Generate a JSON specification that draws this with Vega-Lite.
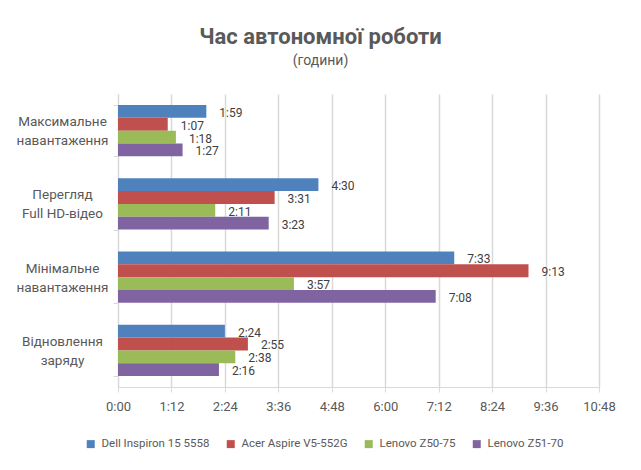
{
  "$schema": "https://vega.github.io/schema/vega-lite/v6.json",
  "width": 481,
  "height": 293,
  "autosize": {"type": "none"},
  "padding": {"left": 118, "top": 94, "right": 42, "bottom": 83},
  "background": "white",
  "config": {"view": {"stroke": null}, "font": "Roboto"},
  "title": {
    "text": "Час автономної роботи",
    "subtitle": "(години)",
    "anchor": "middle",
    "frame": "group",
    "dx": -38,
    "offset": 18,
    "font": "Roboto",
    "fontSize": 22,
    "fontWeight": "bold",
    "color": "#595959",
    "subtitleFont": "Roboto",
    "subtitleFontSize": 14,
    "subtitleColor": "#595959",
    "subtitlePadding": 5
  },
  "data": {
    "values": [
      {"test": "Максимальне навантаження", "model": "Dell Inspiron 15 5558", "minutes": 119, "time": "1:59"},
      {"test": "Максимальне навантаження", "model": "Acer Aspire V5-552G", "minutes": 67, "time": "1:07"},
      {"test": "Максимальне навантаження", "model": "Lenovo Z50-75", "minutes": 78, "time": "1:18"},
      {"test": "Максимальне навантаження", "model": "Lenovo Z51-70", "minutes": 87, "time": "1:27"},
      {"test": "Перегляд Full HD-відео", "model": "Dell Inspiron 15 5558", "minutes": 270, "time": "4:30"},
      {"test": "Перегляд Full HD-відео", "model": "Acer Aspire V5-552G", "minutes": 211, "time": "3:31"},
      {"test": "Перегляд Full HD-відео", "model": "Lenovo Z50-75", "minutes": 131, "time": "2:11"},
      {"test": "Перегляд Full HD-відео", "model": "Lenovo Z51-70", "minutes": 203, "time": "3:23"},
      {"test": "Мінімальне навантаження", "model": "Dell Inspiron 15 5558", "minutes": 453, "time": "7:33"},
      {"test": "Мінімальне навантаження", "model": "Acer Aspire V5-552G", "minutes": 553, "time": "9:13"},
      {"test": "Мінімальне навантаження", "model": "Lenovo Z50-75", "minutes": 237, "time": "3:57"},
      {"test": "Мінімальне навантаження", "model": "Lenovo Z51-70", "minutes": 428, "time": "7:08"},
      {"test": "Відновлення заряду", "model": "Dell Inspiron 15 5558", "minutes": 144, "time": "2:24"},
      {"test": "Відновлення заряду", "model": "Acer Aspire V5-552G", "minutes": 175, "time": "2:55"},
      {"test": "Відновлення заряду", "model": "Lenovo Z50-75", "minutes": 158, "time": "2:38"},
      {"test": "Відновлення заряду", "model": "Lenovo Z51-70", "minutes": 136, "time": "2:16"}
    ]
  },
  "encoding": {
    "y": {
      "field": "test",
      "type": "nominal",
      "sort": ["Максимальне навантаження", "Перегляд Full HD-відео", "Мінімальне навантаження", "Відновлення заряду"],
      "scale": {"paddingInner": 0.3, "paddingOuter": 0.15},
      "axis": {
        "title": null,
        "domainColor": "#D9D9D9",
        "domainWidth": 1,
        "tickColor": "#D9D9D9",
        "tickBand": "extent",
        "tickSize": 5,
        "labelFontSize": 13.5,
        "labelColor": "#595959",
        "labelAlign": "center",
        "labelBaseline": "middle",
        "labelPadding": 51,
        "labelLineHeight": 19,
        "labelOffset": -9,
        "labelFont": "Roboto",
        "labelExpr": "[substring(datum.label, 0, indexof(datum.label, ' ')), substring(datum.label, indexof(datum.label, ' ') + 1)]"
      }
    },
    "yOffset": {
      "field": "model",
      "type": "nominal",
      "sort": ["Dell Inspiron 15 5558", "Acer Aspire V5-552G", "Lenovo Z50-75", "Lenovo Z51-70"]
    },
    "x": {
      "field": "minutes",
      "type": "quantitative",
      "scale": {"domain": [0, 648], "nice": false},
      "axis": {
        "title": null,
        "values": [0, 72, 144, 216, 288, 360, 432, 504, 576, 648],
        "labelExpr": "floor(datum.value / 60) + ':' + (datum.value % 60 < 10 ? '0' : '') + (datum.value % 60)",
        "labelFlush": false,
        "grid": true,
        "gridColor": "#D9D9D9",
        "gridWidth": 1.5,
        "domainColor": "#D9D9D9",
        "tickColor": "#D9D9D9",
        "tickSize": 5,
        "labelFontSize": 13,
        "labelColor": "#595959",
        "labelPadding": 8,
        "labelFont": "Roboto"
      }
    }
  },
  "layer": [
    {
      "mark": {"type": "bar"},
      "encoding": {
        "color": {
          "field": "model",
          "type": "nominal",
          "sort": ["Dell Inspiron 15 5558", "Acer Aspire V5-552G", "Lenovo Z50-75", "Lenovo Z51-70"],
          "scale": {
            "domain": ["Dell Inspiron 15 5558", "Acer Aspire V5-552G", "Lenovo Z50-75", "Lenovo Z51-70"],
            "range": ["#4F81BD", "#C0504D", "#9BBB59", "#8064A2"]
          },
          "legend": {
            "title": null,
            "orient": "none",
            "legendX": -33,
            "legendY": 344,
            "direction": "horizontal",
            "columns": 4,
            "columnPadding": 15,
            "symbolType": "square",
            "symbolSize": 64,
            "symbolStrokeWidth": 0,
            "labelFontSize": 11.5,
            "labelColor": "#595959",
            "labelFont": "Roboto",
            "labelOffset": 5
          }
        }
      }
    },
    {
      "mark": {"type": "text", "align": "left", "baseline": "middle", "dx": 13, "dy": 1.5, "fontSize": 12, "color": "#404040", "font": "Roboto"},
      "encoding": {"text": {"field": "time", "type": "nominal"}}
    }
  ]
}
